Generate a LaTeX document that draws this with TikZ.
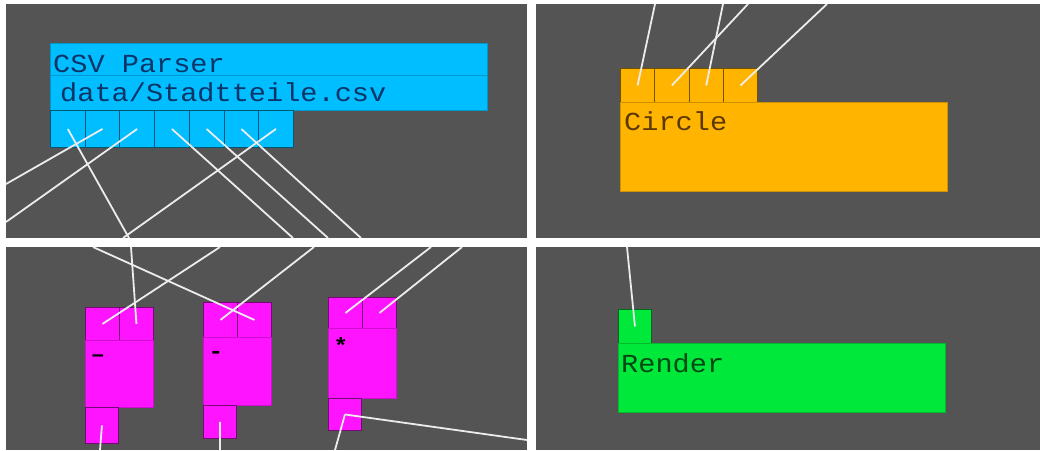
\documentclass[tikz,border=0pt]{standalone}
\usepackage{fontspec}
\newfontfamily\editorfont[FakeStretch=1.1]{Liberation Mono}

\definecolor{panegrey}{RGB}{84,84,84}
\definecolor{wirewhite}{RGB}{236,236,236}
\definecolor{csvblue}{RGB}{0,190,255}
\definecolor{csvtext}{RGB}{12,52,104}
\definecolor{amber}{RGB}{255,180,0}
\definecolor{ambertext}{RGB}{92,56,0}
\definecolor{pink}{RGB}{255,20,255}
\definecolor{rendergreen}{RGB}{0,232,58}
\definecolor{greentext}{RGB}{0,72,20}

\tikzset{
  pane/.style={fill=panegrey},
  wire/.style={draw=wirewhite, line width=1.8pt},
  box/.style={rectangle, fill=#1, draw=#1!80!black, line width=0.6pt, inner sep=0pt, anchor=north west},
  port/.style={box=#1, draw=#1!45!black, line width=0.9pt, minimum width=34.5pt, minimum height=34pt},
  nodetitle/.style={inner sep=0pt, anchor=base west, text=#1, font={\editorfont\fontsize{26}{26}\selectfont}},
  opmark/.style={inner sep=0pt, text=black, font={\editorfont\bfseries\fontsize{22}{22}\selectfont}},
}

\begin{document}
\begin{tikzpicture}[x=1pt, y=-1pt]
  \useasboundingbox (0,0) rectangle (1040,450);
  \fill[white] (0,0) rectangle (1040,450);
  \fill[pane] (6,4) rectangle (527,238);
  \fill[pane] (536,4) rectangle (1040,238);
  \fill[pane] (6,247) rectangle (527,450);
  \fill[pane] (536,247) rectangle (1040,450);

  % csv parser
  \node[box=csvblue, minimum width=437, minimum height=32] (csv) at (50,43) {};
  \node[box=csvblue, minimum width=437, minimum height=35] (csvfile) at (50,75) {};
  \foreach \i in {1,...,7}
    \node[port=csvblue, minimum width=34.7, minimum height=37] (c\i) at ({50+34.7*(\i-1)},110) {};
  \node[nodetitle=csvtext] (csvlabel) at (53,72) {CSV Parser};
  \node[nodetitle=csvtext] (filelabel) at (60,101) {data/Stadtteile.csv};

  % circle
  \foreach \i in {1,...,4}
    \node[port=amber, minimum width=34.3] (o\i) at ({620+34.3*(\i-1)},68) {};
  \node[box=amber, minimum width=327, minimum height=89] (circle) at (620,102) {};
  \node[nodetitle=ambertext] (circlelabel) at (624,130) {Circle};

  % render
  \node[port=rendergreen, minimum width=33] (r1) at (618,309) {};
  \node[box=rendergreen, minimum width=327, minimum height=69] (render) at (618,343) {};
  \node[nodetitle=greentext] (renderlabel) at (621,372) {Render};

  % operators
  \foreach \n/\x/\y/\h/\b/\q/\op in {1/85/307/33/67/36/{\textendash},2/203/302/35/68/33/{-},3/328/297/31/70/32/{*}} {
    \node[port=pink, minimum width=34, minimum height=\h] (m\n-a) at (\x,\y) {};
    \node[port=pink, minimum width=34, minimum height=\h] (m\n-b) at (\x+34,\y) {};
    \node[box=pink, minimum width=68, minimum height=\b] (m\n) at (\x,\y+\h) {};
    \node[port=pink, minimum width=33, minimum height=\q] (m\n-out) at (\x,\y+\h+\b) {};
    \node[opmark] (m\n-op) at (\x+13,\y+\h+18) {\op};
  }

  % wires, each pane clipped on its own
  \begin{scope}
    \clip (6,4) rectangle (527,238);
    \coordinate (ta) at (6,184);
    \coordinate (tb) at (6,222);
    \coordinate (tc) at (129,238);
    \coordinate (td) at (123,238);
    \coordinate (te) at (293,238);
    \coordinate (tf) at (328,238);
    \coordinate (tg) at (361,238);
    \foreach \p/\e in {c1/tc, c2/ta, c3/tb, c4/te, c5/tf, c6/tg, c7/td}
      \draw[wire] (\p.center) -- (\e);
  \end{scope}

  \begin{scope}
    \clip (6,247) rectangle (527,450);
    \coordinate (ba) at (131,247);
    \coordinate (bb) at (220,247);
    \coordinate (bc) at (93,247);
    \coordinate (bd) at (314,247);
    \coordinate (be) at (431,247);
    \coordinate (bf) at (462,247);
    \coordinate (bg) at (100,450);
    \coordinate (bh) at (220,450);
    \coordinate (bi) at (335,450);
    \coordinate (bj) at (527,440);
    \foreach \p/\e in {m1-b/ba, m1-a/bb, m2-b/bc, m2-a/bd, m3-a/be, m3-b/bf, m1-out/bg, m2-out/bh, m3-out/bi, m3-out/bj}
      \draw[wire] (\p.center) -- (\e);
  \end{scope}

  \begin{scope}
    \clip (536,4) rectangle (1040,238);
    \coordinate (ra) at (655,4);
    \coordinate (rb) at (748,4);
    \coordinate (rc) at (723,4);
    \coordinate (rd) at (827,4);
    \foreach \p/\e in {o1/ra, o2/rb, o3/rc, o4/rd}
      \draw[wire] (\p.center) -- (\e);
  \end{scope}

  \begin{scope}
    \clip (536,247) rectangle (1040,450);
    \coordinate (re) at (627,247);
    \draw[wire] (r1.center) -- (re);
  \end{scope}
\end{tikzpicture}
\end{document}
